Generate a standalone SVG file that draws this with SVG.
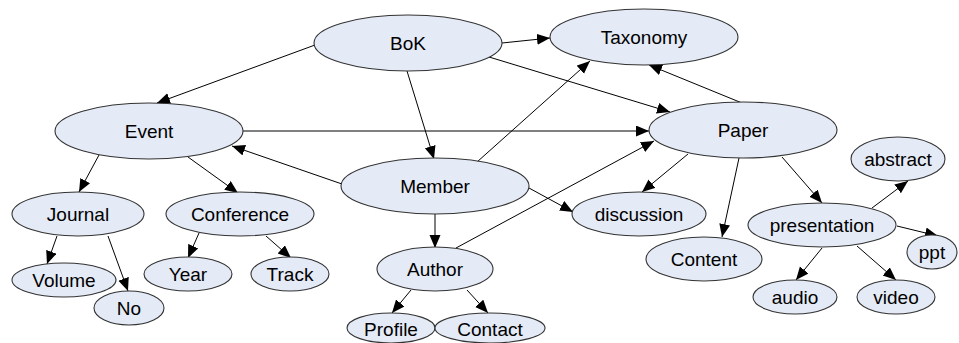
<svg xmlns="http://www.w3.org/2000/svg" width="959" height="343" viewBox="0 0 959 343">
<defs>
<marker id="arr" markerUnits="userSpaceOnUse" markerWidth="14" markerHeight="12" refX="13" refY="5.5" orient="auto">
<path d="M0,0 L13,5.5 L0,11 z" fill="#000"/>
</marker>
<style>
.n ellipse{fill:#E4EAF6;stroke:#333;stroke-width:1.1}
.n text{font-family:"Liberation Sans",Arial,sans-serif;font-size:19px;fill:#000;text-anchor:middle}
#edges line{stroke:#000;stroke-width:1;marker-end:url(#arr)}
</style>
</defs>
<rect width="959" height="343" fill="#fff"/>
<g id="edges">
<line x1="315" y1="45" x2="157" y2="103"/>
<line x1="502" y1="43" x2="550" y2="38"/>
<line x1="407" y1="71" x2="434" y2="159"/>
<line x1="489" y1="57" x2="670" y2="112"/>
<line x1="243" y1="131" x2="649" y2="131"/>
<line x1="342" y1="184" x2="232" y2="146"/>
<line x1="477" y1="162" x2="590" y2="61"/>
<line x1="742" y1="103" x2="649" y2="65"/>
<line x1="456" y1="248" x2="654" y2="141"/>
<line x1="529" y1="188" x2="573" y2="212"/>
<line x1="435" y1="214" x2="435" y2="248"/>
<line x1="99" y1="155" x2="79" y2="192"/>
<line x1="188" y1="157" x2="238" y2="193"/>
<line x1="57" y1="236" x2="47" y2="264"/>
<line x1="108" y1="236" x2="128" y2="291"/>
<line x1="199" y1="233" x2="188" y2="258"/>
<line x1="266" y1="236" x2="291" y2="258"/>
<line x1="411" y1="290" x2="392" y2="313"/>
<line x1="467" y1="290" x2="488" y2="313"/>
<line x1="688" y1="154" x2="642" y2="192"/>
<line x1="739" y1="158" x2="722" y2="237"/>
<line x1="782" y1="157" x2="822" y2="203"/>
<line x1="872" y1="208" x2="908" y2="181"/>
<line x1="897" y1="226" x2="938" y2="236"/>
<line x1="822" y1="248" x2="796" y2="280"/>
<line x1="857" y1="246" x2="896" y2="280"/>
</g>
<g id="BoK" class="n"><ellipse cx="408" cy="43" rx="94" ry="28"/><text x="408" y="50">BoK</text></g>
<g id="Taxonomy" class="n"><ellipse cx="644" cy="37" rx="94" ry="28"/><text x="644" y="44">Taxonomy</text></g>
<g id="Event" class="n"><ellipse cx="149" cy="131" rx="94" ry="28"/><text x="149" y="138">Event</text></g>
<g id="Paper" class="n"><ellipse cx="743" cy="130" rx="94" ry="28"/><text x="743" y="137">Paper</text></g>
<g id="Member" class="n"><ellipse cx="435" cy="186" rx="94" ry="28"/><text x="435" y="193">Member</text></g>
<g id="Author" class="n"><ellipse cx="435" cy="269" rx="58" ry="22"/><text x="435" y="276">Author</text></g>
<g id="Profile" class="n"><ellipse cx="391" cy="328" rx="44" ry="15"/><text x="391" y="336">Profile</text></g>
<g id="Contact" class="n"><ellipse cx="490" cy="328" rx="55" ry="15"/><text x="490" y="336">Contact</text></g>
<g id="discussion" class="n"><ellipse cx="639" cy="214" rx="67" ry="22"/><text x="639" y="221">discussion</text></g>
<g id="Content" class="n"><ellipse cx="704" cy="259" rx="58" ry="22"/><text x="704" y="266">Content</text></g>
<g id="presentation" class="n"><ellipse cx="822" cy="225" rx="74" ry="22"/><text x="822" y="232">presentation</text></g>
<g id="abstract" class="n"><ellipse cx="898" cy="159" rx="47" ry="22"/><text x="898" y="166">abstract</text></g>
<g id="ppt" class="n"><ellipse cx="932" cy="252" rx="25" ry="17"/><text x="932" y="259">ppt</text></g>
<g id="audio" class="n"><ellipse cx="795" cy="297" rx="42" ry="17"/><text x="795" y="304">audio</text></g>
<g id="video" class="n"><ellipse cx="896" cy="297" rx="39" ry="17"/><text x="896" y="304">video</text></g>
<g id="Journal" class="n"><ellipse cx="78" cy="214" rx="66" ry="22"/><text x="78" y="221">Journal</text></g>
<g id="Conference" class="n"><ellipse cx="240" cy="214" rx="74" ry="22"/><text x="240" y="221">Conference</text></g>
<g id="Volume" class="n"><ellipse cx="64" cy="280" rx="52" ry="17"/><text x="64" y="287">Volume</text></g>
<g id="No" class="n"><ellipse cx="129" cy="308" rx="35" ry="17"/><text x="129" y="315">No</text></g>
<g id="Year" class="n"><ellipse cx="188" cy="274" rx="44" ry="17"/><text x="188" y="281">Year</text></g>
<g id="Track" class="n"><ellipse cx="290" cy="274" rx="39" ry="17"/><text x="290" y="281">Track</text></g>
</svg>
